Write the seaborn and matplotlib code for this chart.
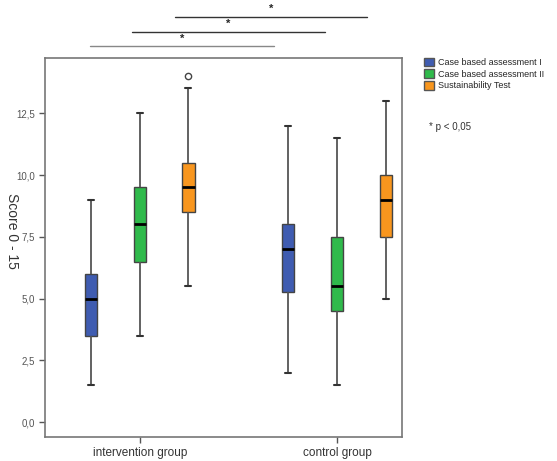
import seaborn as sns
import pandas as pd
import matplotlib.pyplot as plt
from matplotlib.patches import Patch

# data (observations chosen so the boxes reproduce the read-off quartiles/whiskers)
groups = ["intervention group", "control group"]
tests = ["Case based assessment I", "Case based assessment II", "Sustainability Test"]
int_case1 = [1.5, 3.5, 5.0, 6.0, 9.0]
int_case2 = [3.5, 6.5, 8.0, 9.5, 12.5]
int_sust = [5.5, 8.5, 8.5, 9.5, 9.5, 9.5, 10.5, 13.5, 14.0]
ctl_case1 = [2.0, 5.25, 7.0, 8.0, 12.0]
ctl_case2 = [1.5, 4.5, 5.5, 7.5, 11.5]
ctl_sust = [5.0, 7.5, 9.0, 10.0, 13.0]
yticks = [0, 2.5, 5, 7.5, 10, 12.5]
ytick_labels = ["0,0", "2,5", "5,0", "7,5", "10,0", "12,5"]
colors = ["#3f5cb1", "#2fba4b", "#f8961e"]

rows = []
for g, lists in zip(groups, [(int_case1, int_case2, int_sust), (ctl_case1, ctl_case2, ctl_sust)]):
    for t, vals in zip(tests, lists):
        for v in vals:
            rows.append({"group": g, "test": t, "score": v})
df = pd.DataFrame(rows)

sns.set_style("white")
plt.rcParams['font.family'] = ['Liberation Sans', 'DejaVu Sans']

fig = plt.figure(figsize=(5.57, 4.61), dpi=100)
ax = fig.add_axes([0.081, 0.052, 0.641, 0.822])

sns.boxplot(data=df, x="group", y="score", hue="test", palette=colors, width=0.74, gap=0.75,
            whis=1.5, linewidth=1.0, linecolor='#444444', saturation=1,
            medianprops=dict(color='black', linewidth=2),
            whiskerprops=dict(color='#555555', linewidth=1.3),
            capprops=dict(color='#333333', linewidth=1.5),
            flierprops=dict(marker='o', markerfacecolor='white', markeredgecolor='#444444', markersize=4.5),
            legend=False, ax=ax)

ax.set_xlim(-0.48, 1.33)
ax.set_ylim(-0.6, 14.73)
ax.set_yticks(yticks)
ax.set_yticklabels(ytick_labels, fontsize=7, color='#555555')
ax.tick_params(axis='both', direction='out', length=4, width=1, color='#555555', left=True, bottom=True)
ax.tick_params(axis='x', labelsize=8.5, labelcolor='#333333')
ax.set_xlabel("")
ax.set_ylabel("")
fig.text(0.022, 0.5, "Score 0 - 15", fontsize=10, color='#333333', rotation=-90,
         ha='center', va='center')
for s in ax.spines.values():
    s.set_color('#777777')
    s.set_linewidth(1.2)

# significance brackets
for x0, x1, y, c in [(0.18, 1.15, 16.4, '#333333'), (-0.04, 0.94, 15.8, '#333333'), (-0.25, 0.68, 15.2, '#888888')]:
    ax.plot([x0, x1], [y, y], color=c, linewidth=1, clip_on=False)
    ax.text((x0 + x1) / 2, y + 0.12, "*", fontsize=8, fontweight='bold', ha='center', va='bottom',
            clip_on=False)

# legend
handles = [Patch(facecolor=c, edgecolor='#555555') for c in colors]
fig.legend(handles, tests, loc='upper left', bbox_to_anchor=(0.762, 0.875), frameon=False,
           fontsize=6.5, handlelength=1.1, handleheight=1.1, handletextpad=0.4, labelspacing=0.25,
           borderaxespad=0, borderpad=0)
fig.text(0.77, 0.725, "* p < 0,05", fontsize=7, color='#333333', va='center')

fig.savefig("out.png", dpi=100)
